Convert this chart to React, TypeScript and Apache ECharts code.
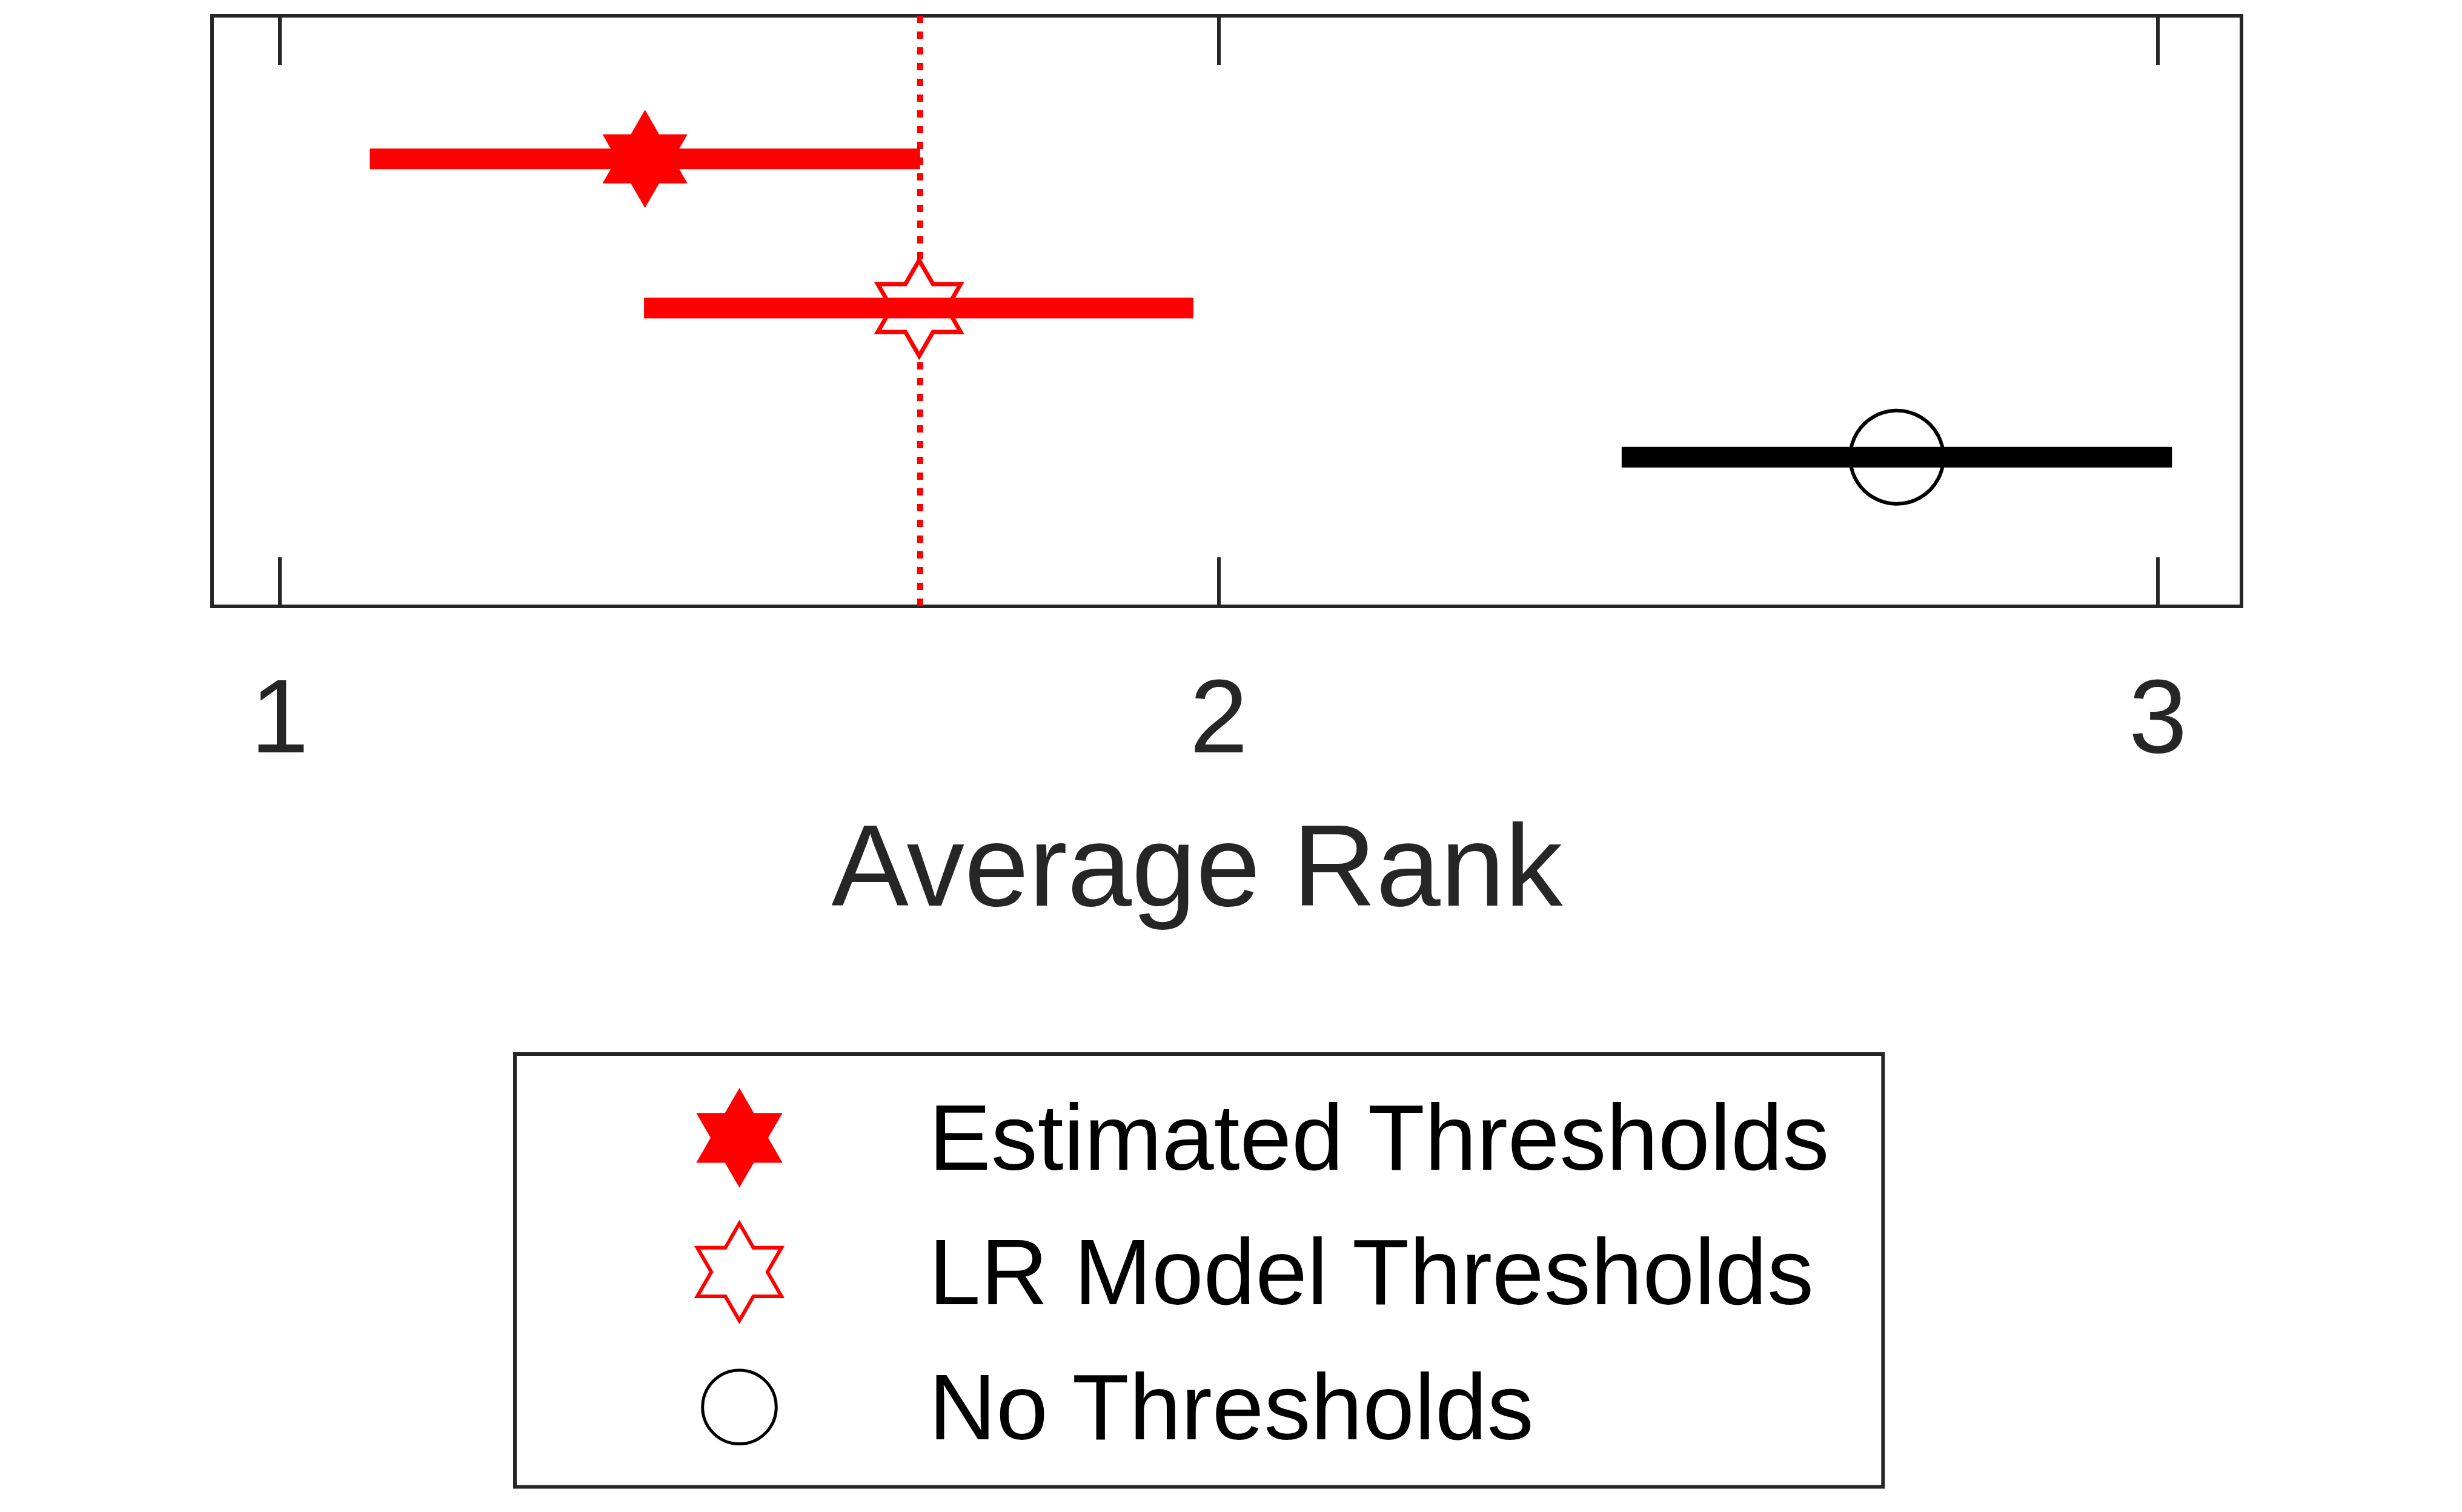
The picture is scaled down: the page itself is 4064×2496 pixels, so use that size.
import React, { useEffect, useRef } from "react";
import * as echarts from "echarts";

// ---- data ----
const methods = ["Estimated Thresholds", "LR Model Thresholds", "No Thresholds"];
const rowPos = [1, 2, 3];
const avgRank = [1.389, 1.681, 2.722];
const lowerCD = [1.096, 1.388, 2.429];
const upperCD = [1.682, 1.973, 3.015];
const cdLine = [1.682];
const xTicks = [1, 2, 3];
const xRange = [0.928, 3.089];
const yRange = [0.04, 4];

const RED = "#ff0000";
const DARK = "#262626";
const FONT = "'Liberation Sans', Arial, Helvetica, sans-serif";

function hexPoints(cx: number, cy: number, R: number): number[][] {
  const r = R / Math.sqrt(3);
  const pts: number[][] = [];
  for (let k = 0; k < 12; k++) {
    const a = ((-90 + 30 * k) * Math.PI) / 180;
    const rad = k % 2 === 0 ? R : r;
    pts.push([cx + rad * Math.cos(a), cy + rad * Math.sin(a)]);
  }
  return pts;
}

function hexPath(R: number): string {
  const w = R * Math.cos(Math.PI / 6);
  const pts = hexPoints(w, R, R);
  return (
    "path://M" +
    pts.map((p) => p[0].toFixed(2) + " " + p[1].toFixed(2)).join(" L") +
    " Z"
  );
}

function circlePath(R: number, rc: number): string {
  const w = R * Math.cos(Math.PI / 6);
  const cx = w;
  const cy = R;
  return (
    `path://M0 0 M${(2 * w).toFixed(2)} ${(2 * R).toFixed(2)} ` +
    `M${(cx - rc).toFixed(2)} ${cy} A${rc} ${rc} 0 1 1 ${(cx + rc).toFixed(2)} ${cy} ` +
    `A${rc} ${rc} 0 1 1 ${(cx - rc).toFixed(2)} ${cy} Z`
  );
}

const markerStyles = [
  { kind: "star", fill: RED, stroke: RED, lw: 2, bar: RED },
  { kind: "star", fill: "#ffffff", stroke: RED, lw: 7, bar: RED },
  { kind: "circle", fill: "#ffffff", stroke: "#000000", lw: 6, bar: "#000000" },
];

export default function App() {
  const ref = useRef<HTMLDivElement>(null);

  useEffect(() => {
    if (!ref.current) return;
    const chart = echarts.init(ref.current, null, { renderer: "svg" });

    const methodSeries = methods.map((name, i) => ({
      type: "custom",
      name,
      z: 3,
      clip: false,
      itemStyle: { color: markerStyles[i].stroke },
      data: [[avgRank[i], rowPos[i], lowerCD[i], upperCD[i]]],
      renderItem: (params: any, api: any) => {
        const y = api.value(1);
        const c = api.coord([api.value(0), y]);
        const lo = api.coord([api.value(2), y]);
        const hi = api.coord([api.value(3), y]);
        const ms = markerStyles[i];
        const marker =
          ms.kind === "star"
            ? {
                type: "polygon",
                shape: { points: hexPoints(c[0], c[1], 79) },
                style: { fill: ms.fill, stroke: ms.stroke, lineWidth: ms.lw },
              }
            : {
                type: "circle",
                shape: { cx: c[0], cy: c[1], r: 77 },
                style: { fill: ms.fill, stroke: ms.stroke, lineWidth: ms.lw },
              };
        return {
          type: "group",
          children: [
            marker,
            {
              type: "line",
              shape: { x1: lo[0], y1: lo[1], x2: hi[0], y2: hi[1] },
              style: { stroke: ms.bar, lineWidth: 34, lineCap: "butt" },
            },
          ],
        };
      },
    }));

    const cdSeries = {
      type: "custom",
      name: "CD",
      z: 1,
      clip: false,
      data: cdLine.map((v) => [v]),
      renderItem: (params: any, api: any) => {
        const x = api.value(0);
        const p1 = api.coord([x, yRange[0]]);
        const p2 = api.coord([x, yRange[1]]);
        return {
          type: "line",
          shape: { x1: p1[0], y1: p1[1], x2: p2[0], y2: p2[1] },
          style: { stroke: RED, lineWidth: 10, lineDash: [12, 14], lineCap: "butt" },
        };
      },
    };

    const tickCommon = {
      show: true,
      inside: true,
      length: 81,
      customValues: xTicks,
      lineStyle: { color: DARK, width: 6 },
    };

    chart.setOption({
      animation: false,
      backgroundColor: "#ffffff",
      textStyle: { fontFamily: FONT },
      grid: {
        left: 350,
        right: 364,
        top: 26,
        bottom: 1495,
        show: true,
        borderColor: DARK,
        borderWidth: 6,
        backgroundColor: "transparent",
        containLabel: false,
        outerBoundsMode: "none",
      },
      xAxis: [
        {
          type: "value",
          position: "bottom",
          min: xRange[0],
          max: xRange[1],
          axisLine: { show: false },
          splitLine: { show: false },
          axisTick: tickCommon,
          axisLabel: {
            show: true,
            customValues: xTicks,
            fontSize: 173,
            color: DARK,
            margin: 94,
            fontFamily: FONT,
          },
          name: "Average Rank",
          nameLocation: "middle",
          nameGap: 332,
          nameTextStyle: {
            fontSize: 191,
            color: DARK,
            fontFamily: FONT,
            padding: [0, 98, 0, 0],
          },
        },
        {
          type: "value",
          position: "top",
          min: xRange[0],
          max: xRange[1],
          axisLine: { show: false },
          splitLine: { show: false },
          axisTick: tickCommon,
          axisLabel: { show: false },
        },
      ],
      yAxis: {
        type: "value",
        min: yRange[0],
        max: yRange[1],
        inverse: true,
        axisLine: { show: false },
        axisTick: { show: false },
        axisLabel: { show: false },
        splitLine: { show: false },
      },
      legend: {
        orient: "vertical",
        left: 850,
        top: 1740,
        padding: [57, 86, 49, 298],
        itemWidth: 139,
        itemHeight: 161,
        itemGap: 57,
        borderColor: DARK,
        borderWidth: 6,
        backgroundColor: "#ffffff",
        selectedMode: false,
        textStyle: {
          fontSize: 154,
          color: "#000000",
          fontFamily: FONT,
          padding: [0, 0, 0, 238],
        },
        data: [
          {
            name: methods[0],
            icon: hexPath(80.5),
            itemStyle: { color: RED, borderColor: RED, borderWidth: 2 },
          },
          {
            name: methods[1],
            icon: hexPath(80.5),
            itemStyle: { color: "#ffffff", borderColor: RED, borderWidth: 6 },
          },
          {
            name: methods[2],
            icon: circlePath(80.5, 61),
            itemStyle: { color: "#ffffff", borderColor: "#000000", borderWidth: 5 },
          },
        ],
      },
      series: [cdSeries, ...methodSeries],
    });

    return () => chart.dispose();
  }, []);

  return (
    <div
      ref={ref}
      style={{ position: "absolute", left: 0, top: 0, width: 4064, height: 2496 }}
    />
  );
}
